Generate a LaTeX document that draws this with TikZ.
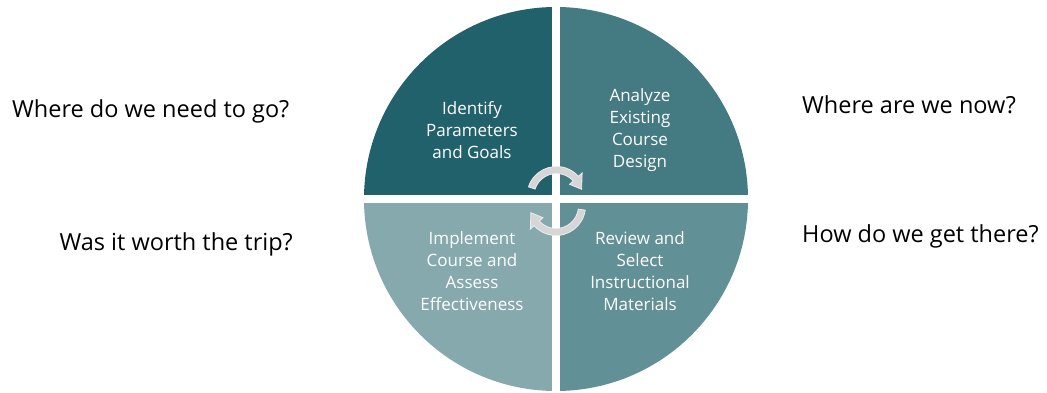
\documentclass[tikz,border=0pt]{standalone}
\usepackage{fontspec}
\setmainfont{Open Sans}
\usetikzlibrary{calc}
\definecolor{qTL}{RGB}{33,97,107}
\definecolor{qTR}{RGB}{68,122,129}
\definecolor{qBR}{RGB}{97,144,150}
\definecolor{qBL}{RGB}{134,169,174}
\definecolor{arrowgray}{RGB}{214,214,214}
\tikzset{
  wedgetext/.style={text=white, align=center, font=\fontsize{17}{22}\selectfont},
  question/.style={text=black, font=\fontsize{23.5}{26}\selectfont, inner sep=0pt},
  cyclearrow/.style={fill=arrowgray, draw=white!93!black, line width=0.8pt},
}
\newcommand{\cyclearr}[4]{% center, start angle, head base angle, tip angle
  \filldraw[cyclearrow] ($(#1)+(#2:29.5pt)$) arc[start angle=#2, end angle=#3, radius=29.5pt]
    -- ($(#1)+(#3:34.5pt)$) -- ($(#1)+(#4:26pt)$) -- ($(#1)+(#3:17.5pt)$)
    -- ($(#1)+(#3:22.5pt)$) arc[start angle=#3, end angle=#2, radius=22.5pt] -- cycle;}
\begin{document}
\begin{tikzpicture}[x=1pt,y=1pt]
\useasboundingbox[fill=white] (0,0) rectangle (1047,392);
\coordinate (C) at (556,193);
\fill[qTL] (C) -- ++(180:192pt) arc[start angle=180, end angle=90, radius=192pt] -- cycle;
\fill[qTR] (C) -- ++(90:192pt) arc[start angle=90, end angle=0, radius=192pt] -- cycle;
\fill[qBR] (C) -- ++(0:192pt) arc[start angle=0, end angle=-90, radius=192pt] -- cycle;
\fill[qBL] (C) -- ++(-90:192pt) arc[start angle=-90, end angle=-180, radius=192pt] -- cycle;
\draw[white, line width=8pt] ($(C)+(-196,0)$) -- ($(C)+(196,0)$);
\draw[white, line width=8pt] ($(C)+(0,-196)$) -- ($(C)+(0,196)$);
\coordinate (A1) at (556.5,196);
\coordinate (A2) at (556,186);
\cyclearr{A1}{162}{42}{15}
\cyclearr{A2}{-8}{-138}{-165}
\node[wedgetext] (tl) at (472,262) {Identify\\Parameters\\and Goals};
\node[wedgetext] (tr) at (640,262) {Analyze\\Existing\\Course\\Design};
\node[wedgetext] (bl) at (472,121) {Implement\\Course and\\Assess\\Effectiveness};
\node[wedgetext] (br) at (640,121) {Review and\\Select\\Instructional\\Materials};
\node[question, anchor=base west] (q1) at (12,275) {Where do we need to go?};
\node[question, anchor=base east] (q2) at (293,142) {Was it worth the trip?};
\node[question, anchor=base west] (q3) at (802,279) {Where are we now?};
\node[question, anchor=base west] (q4) at (802,150) {How do we get there?};
\end{tikzpicture}
\end{document}
